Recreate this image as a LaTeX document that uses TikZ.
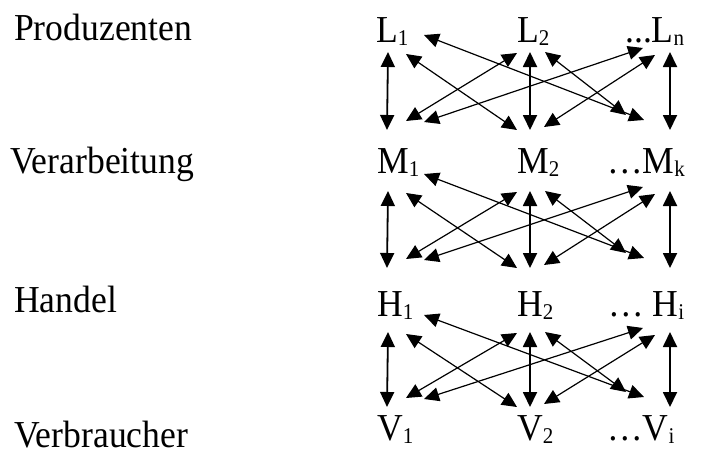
\documentclass[tikz,border=0pt]{standalone}
\usepackage{fontspec}
\setmainfont{Liberation Serif}
\usetikzlibrary{arrows.meta}
\newcommand{\mysub}[1]{\raisebox{-3pt}{\fontsize{21}{21}\selectfont #1}}
\newcommand{\tallt}[1]{\scalebox{1}[1.07]{#1}}
\begin{document}
\begin{tikzpicture}[x=1pt,y=-1pt,
  lbl/.style={anchor=base west, inner sep=0pt, font=\fontsize{35.6}{40}\selectfont},
  link/.style={{Triangle[length=15pt,width=14pt]}-{Triangle[length=15pt,width=14pt]}, line width=1.2pt},
  vlink/.style={link, line width=1.8pt}]
\useasboundingbox (0,0) rectangle (704,455);
% row labels
\node[lbl] (prod) at (14,40) {\tallt{Produzenten}};
\node[lbl] (verarb) at (10,173) {\tallt{Verarbeitung}};
\node[lbl] (handel) at (14,312) {\tallt{Handel}};
\node[lbl] (verbr) at (14,447) {\tallt{Verbraucher}};
% level nodes
\node[lbl] (L1) at (376,42) {\tallt{L\mysub{1}}};
\node[lbl] (L2) at (517,42) {\tallt{L\mysub{2}}};
\node[lbl] (Ln) at (625,42) {\tallt{...L\mysub{n}}};
\node[lbl] (M1) at (377,173) {\tallt{M\mysub{1}}};
\node[lbl] (M2) at (517,173) {\tallt{M\mysub{2}}};
\node[lbl] (Mk) at (607,173) {\tallt{…M\mysub{k}}};
\node[lbl] (H1) at (377,316) {\tallt{H\mysub{1}}};
\node[lbl] (H2) at (517,316) {\tallt{H\mysub{2}}};
\node[lbl] (Hi) at (608,316) {\tallt{… H\mysub{i}}};
\node[lbl] (V1) at (377,440) {\tallt{V\mysub{1}}};
\node[lbl] (V2) at (517,440) {\tallt{V\mysub{2}}};
\node[lbl] (Vi) at (607,440) {\tallt{…V\mysub{i}}};
% connectors between consecutive levels
\foreach \r/\T/\B in {1/52/130,2/191/268,3/332/407}{
  \coordinate (r\r-v1t) at (388,\T);      \coordinate (r\r-v1b) at (387,\B);
  \coordinate (r\r-at)  at (406,{\T+2});  \coordinate (r\r-ab)  at (517,\B);
  \coordinate (r\r-lt)  at (424,{\T-17}); \coordinate (r\r-lb)  at (644,{\B-10});
  \coordinate (r\r-bt)  at (517,{\T+1});  \coordinate (r\r-bb)  at (406,{\B-9});
  \coordinate (r\r-v2t) at (530,\T);      \coordinate (r\r-v2b) at (530,\B);
  \coordinate (r\r-ct)  at (545,\T);      \coordinate (r\r-cb)  at (626,{\B-15});
  \coordinate (r\r-dt)  at (643,{\T-4});  \coordinate (r\r-db)  at (424,{\B-8});
  \coordinate (r\r-et)  at (655,{\T+3});  \coordinate (r\r-eb)  at (544,{\B-3});
  \coordinate (r\r-v3t) at (670,\T);      \coordinate (r\r-v3b) at (670,\B);
  \draw[vlink] (r\r-v1t) -- (r\r-v1b);
  \draw[vlink] (r\r-v2t) -- (r\r-v2b);
  \draw[vlink] (r\r-v3t) -- (r\r-v3b);
  \draw[link] (r\r-at) -- (r\r-ab);
  \draw[link] (r\r-lt) -- (r\r-lb);
  \draw[link] (r\r-bt) -- (r\r-bb);
  \draw[link] (r\r-ct) -- (r\r-cb);
  \draw[link] (r\r-dt) -- (r\r-db);
  \draw[link] (r\r-et) -- (r\r-eb);
}
\end{tikzpicture}
\end{document}
